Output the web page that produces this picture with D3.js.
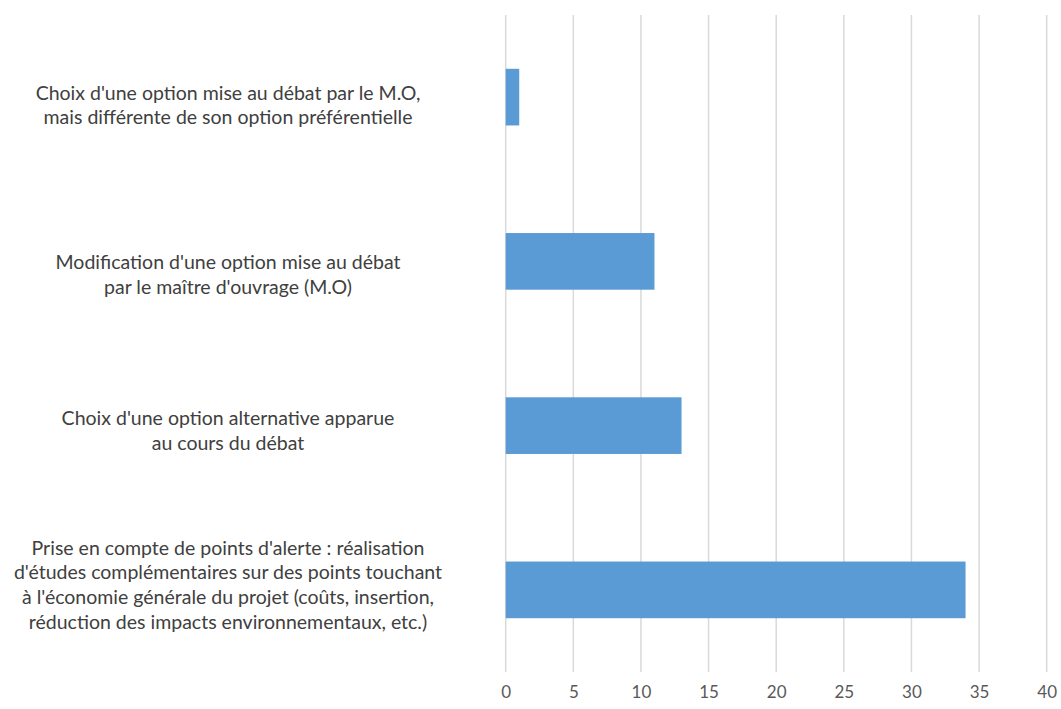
<!DOCTYPE html>
<html><head><meta charset="utf-8">
<script src="https://cdn.jsdelivr.net/npm/d3@7"></script>
<style>body{margin:0;background:#fff}svg{display:block}</style>
</head><body>
<svg id="chart" width="1061" height="709"></svg>
<script>
const categories = [
  ["Choix d'une option mise au débat par le M.O,", "mais différente de son option préférentielle"],
  ["Modification d'une option mise au débat", "par le maître d'ouvrage (M.O)"],
  ["Choix d'une option alternative apparue", "au cours du débat"],
  ["Prise en compte de points d'alerte : réalisation", "d'études complémentaires sur des points touchant", "à l'économie générale du projet (coûts, insertion,", "réduction des impacts environnementaux, etc.)"]
];
const values = [1, 11, 13, 34];
const tickValues = [0, 5, 10, 15, 20, 25, 30, 35, 40];

// layout-only nudges of the label blocks (px)
const labelNudge = [8, 13, 5, -5];

const svg = d3.select("#chart");
const x = d3.scaleLinear().domain([0, 40]).range([505.7, 1046.7]);
const y = d3.scaleBand().domain(d3.range(categories.length)).range([15, 672]).paddingInner(0.655).paddingOuter(0.3275);

// gridlines
svg.append("g").selectAll("line").data(tickValues).join("line")
  .attr("x1", d => x(d)).attr("x2", d => x(d))
  .attr("y1", 15).attr("y2", 672)
  .attr("stroke", "#d9d9d9").attr("stroke-width", 1.5);

// bars
svg.append("g").selectAll("rect").data(values).join("rect")
  .attr("x", x(0)).attr("y", (d, i) => y(i))
  .attr("width", d => x(d) - x(0)).attr("height", y.bandwidth())
  .attr("fill", "#5b9bd5");

// x axis
const xAxis = d3.axisBottom(x).tickValues(tickValues).tickSize(0).tickPadding(0);
const gx = svg.append("g").attr("transform", "translate(0,686)").call(xAxis);
gx.select(".domain").remove();
gx.selectAll("text").attr("font-family", "Lato, sans-serif").attr("font-size", 17)
  .attr("fill", "#595959");

// category labels
const lh = 24.6;
const lab = svg.append("g");
categories.forEach((lines, i) => {
  const cy = y(i) + y.bandwidth() / 2 + labelNudge[i];
  const t = lab.append("text").attr("text-anchor", "middle")
    .attr("font-family", "Lato, sans-serif").attr("font-size", 19.5).attr("fill", "#404040");
  lines.forEach((s, j) => {
    t.append("tspan").attr("x", 228)
      .attr("y", cy + (j - (lines.length - 1) / 2) * lh)
      .attr("dy", "0.35em").text(s);
  });
});
</script>
</body></html>
